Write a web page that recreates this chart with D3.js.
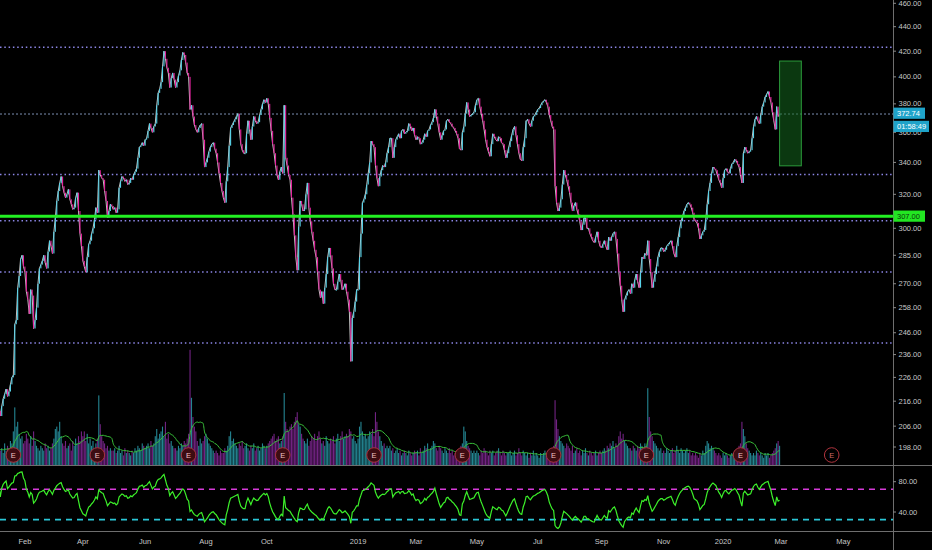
<!DOCTYPE html>
<html>
<head>
<meta charset="utf-8">
<script src="https://cdn.jsdelivr.net/npm/d3@7"></script>
<style>
  html, body { margin: 0; padding: 0; background: #000; overflow: hidden; }
  svg { display: block; }
  text { font-family: "Liberation Sans", Arial, sans-serif; }
</style>
</head>
<body>
<svg id="chart" width="932" height="550"></svg>
<script>
// Trading calendar
const startDate = '2018-01-02';
const endDate = '2020-06-30';
const holidays = [
  '2018-01-15', '2018-02-19', '2018-03-30', '2018-05-28', '2018-07-04', '2018-09-03', '2018-11-22', '2018-12-05', '2018-12-25',
  '2019-01-01', '2019-01-21', '2019-02-18', '2019-04-19', '2019-05-27', '2019-07-04', '2019-09-02', '2019-11-28', '2019-12-25',
  '2020-01-01', '2020-01-20', '2020-02-17', '2020-04-10', '2020-05-25'
];

// Daily closes (one row per month)
const closes = [
  208, 206, 209, 212, 210, 214, 217, 219, 221, 218, 220, 223, 226, 227, 250, 252, 268, 274, 283, 285, 279, // 2018-01
  276, 266, 262, 255, 267, 264, 248, 252, 258, 270, 278, 280, 282, 285, 281, 278, 287, 293, 290, // 02
  286, 298, 306, 316, 322, 327, 331, 325, 321, 318, 320, 323, 317, 314, 311, 312, 318, 321, 310, 297, 290, // 03
  282, 279, 276, 284, 291, 293, 297, 300, 305, 312, 309, 335, 332, 330, 329, 322, 316, 306, 310, 314, 313, // 04
  311, 312, 309, 311, 324, 328, 331, 330, 328, 329, 326, 327, 330, 329, 332, 334, 336, 343, 350, 351, 353, 351, // 05
  355, 356, 361, 366, 363, 360, 364, 366, 379, 388, 391, 396, 408, 420, 414, 407, 403, 392, 399, 403, 398, // 06
  392, 396, 401, 405, 413, 419, 417, 411, 403, 400, 376, 379, 371, 365, 362, 360, 363, 365, 366, 355, 337, // 07
  340, 343, 347, 350, 352, 353, 349, 346, 340, 333, 327, 322, 318, 315, 328, 337, 351, 363, 365, 367, 369, 371, 373, // 08
  362, 352, 348, 346, 346, 359, 368, 362, 355, 364, 371, 368, 366, 367, 372, 376, 380, 383, 381, // 09
  384, 380, 370, 361, 352, 346, 338, 332, 329, 334, 337, 333, 379, 343, 338, 332, 329, 318, 308, 296, 284, 277, 301, // 10
  316, 314, 310, 311, 320, 327, 312, 304, 298, 293, 288, 284, 276, 267, 263, 266, 260, 268, 275, 284, 289, // 11
  285, 278, 270, 267, 267, 271, 275, 272, 267, 268, 270, 266, 262, 256, 233, 253, 256, 261, 267, // 12
  267, 284, 297, 315, 317, 320, 326, 333, 340, 354, 352, 350, 338, 330, 325, 331, 335, 338, 337, 340, 346, // 2019-01
  350, 356, 356, 343, 350, 355, 357, 359, 356, 361, 362, 359, 360, 361, 366, 364, 361, 363, 358, // 02
  355, 357, 356, 352, 353, 355, 359, 357, 361, 362, 365, 367, 370, 376, 371, 366, 360, 355, 358, 361, 362, // 03
  368, 369, 367, 366, 364, 363, 361, 359, 356, 349, 348, 360, 364, 373, 381, 376, 371, 372, 373, 374, 379, // 04
  383, 384, 378, 373, 368, 362, 355, 350, 347, 344, 352, 359, 357, 355, 354, 357, 356, 353, 352, 348, 343, 346, // 05
  350, 354, 358, 362, 364, 358, 352, 346, 342, 341, 350, 356, 368, 369, 366, 364, 368, 371, 372, 374, // 06
  376, 377, 379, 381, 382, 383, 381, 378, 372, 368, 364, 362, 325, 315, 310, 312, 317, 326, 335, 332, 329, 325, // 07
  321, 315, 310, 313, 315, 311, 308, 304, 299, 302, 306, 306, 300, 300, 297, 295, 293, 292, 295, 298, 293, 290, // 08
  289, 291, 293, 290, 288, 295, 293, 295, 297, 298, 294, 286, 276, 269, 262, 256, 262, 264, 266, 267, // 09
  265, 270, 268, 272, 275, 271, 268, 276, 284, 283, 286, 285, 293, 283, 276, 268, 271, 275, 279, 284, 287, 289, 289, // 10
  287, 288, 290, 291, 292, 293, 290, 286, 284, 290, 295, 300, 304, 307, 310, 312, 314, 315, 314, 312, // 11
  309, 305, 304, 303, 300, 294, 296, 298, 299, 305, 314, 322, 327, 333, 337, 336, 335, 332, 329, 327, 324, // 12
  330, 335, 336, 334, 333, 336, 339, 340, 342, 341, 339, 337, 332, 327, 346, 350, 348, 346, 347, 348, 356, // 2020-01
  364, 369, 371, 368, 366, 372, 378, 381, 385, 387, 389, 385, 381, 374, 368, 362, 378, 371, 372.74 // 02
];

// Daily volume in millions of shares
const volumes = [
  7, 6, 5, 8, 6, 7, 5, 9, 6, 8, 7, 10, 9, 14, 24, 16, 18, 13, 11, 12, 9,
  10, 13, 11, 9, 12, 8, 14, 10, 8, 7, 6, 8, 7, 6, 9, 7, 8, 6, 7,
  9, 11, 15, 16, 14, 18, 12, 9, 8, 10, 7, 8, 9, 6, 10, 8, 11, 9, 12, 10, 14,
  12, 14, 10, 13, 9, 11, 8, 10, 7, 9, 11, 29, 17, 12, 10, 9, 7, 8, 6, 7, 6,
  6, 7, 5, 6, 8, 5, 6, 4, 7, 5, 6, 5, 4, 6, 5, 7, 6, 8, 7, 6, 9, 8,
  7, 8, 9, 7, 10, 8, 9, 12, 15, 11, 13, 14, 16, 12, 18, 11, 13, 9, 10, 8, 7,
  7, 6, 8, 7, 9, 8, 10, 9, 11, 13, 48, 28, 20, 16, 14, 10, 8, 11, 9, 10, 12,
  13, 11, 9, 8, 7, 6, 5, 6, 5, 4, 6, 5, 5, 7, 6, 8, 12, 14, 10, 11, 9, 8, 7,
  9, 8, 10, 7, 8, 9, 7, 6, 8, 7, 9, 6, 7, 8, 6, 7, 9, 8, 7,
  8, 9, 10, 11, 12, 13, 10, 11, 12, 9, 10, 12, 30, 18, 15, 14, 16, 17, 15, 18, 20, 22, 17,
  16, 13, 11, 10, 9, 11, 8, 10, 12, 11, 13, 10, 12, 14, 11, 9, 10, 8, 12, 10, 9,
  11, 10, 12, 9, 11, 13, 10, 12, 14, 11, 12, 13, 12, 15, 14, 11, 12, 10, 9,
  11, 16, 18, 14, 12, 13, 11, 12, 14, 13, 15, 12, 22, 18, 14, 12, 10, 8, 9, 7, 8,
  7, 8, 6, 7, 5, 6, 7, 5, 6, 4, 5, 6, 5, 4, 6, 5, 4, 5, 6,
  5, 6, 4, 7, 5, 6, 8, 7, 9, 6, 7, 8, 10, 9, 7, 6, 8, 7, 6, 5, 7,
  6, 5, 7, 5, 6, 4, 5, 6, 5, 7, 8, 9, 16, 14, 10, 8, 7, 6, 5, 6, 5,
  6, 5, 4, 6, 5, 7, 6, 5, 4, 6, 5, 6, 4, 5, 6, 7, 5, 4, 6, 5, 4, 5,
  5, 6, 4, 5, 6, 4, 5, 7, 5, 4, 6, 5, 4, 5, 3, 5, 4, 6, 4, 5,
  4, 3, 5, 4, 5, 6, 4, 5, 6, 5, 7, 8, 27, 19, 15, 12, 10, 9, 8, 7, 9, 8,
  7, 6, 8, 5, 6, 7, 5, 6, 4, 6, 5, 7, 5, 4, 6, 5, 4, 5, 6, 4, 5, 6,
  5, 6, 7, 6, 8, 7, 9, 8, 10, 7, 9, 8, 12, 14, 11, 13, 10, 9, 8, 7,
  7, 6, 8, 7, 6, 8, 7, 9, 8, 7, 9, 8, 32, 20, 14, 12, 10, 9, 8, 7, 6, 7, 5,
  6, 5, 7, 6, 5, 6, 7, 5, 6, 8, 6, 5, 7, 6, 5, 6, 7, 5, 6, 4,
  5, 4, 5, 4, 3, 5, 4, 6, 5, 8, 10, 9, 7, 8, 7, 6, 5, 4, 5, 4, 3,
  5, 4, 5, 4, 3, 4, 5, 4, 5, 6, 7, 8, 9, 18, 15, 12, 9, 7, 6, 5, 4,
  5, 4, 6, 5, 4, 5, 4, 3, 5, 4, 5, 3, 4, 5, 6, 7, 9, 10, 8
];

const earnings = ['2018-01-22', '2018-04-16', '2018-07-16', '2018-10-16', '2019-01-17',
  '2019-04-16', '2019-07-17', '2019-10-16', '2020-01-21', '2020-04-21'];

const levelLines = [423.2, 332.3, 304.3, 276.1, 241.3];
const supportLevel = 307;
const lastPrice = 372.74;
const countdown = '01:58:49';
const targetBox = { from: '2020-02-28', to: '2020-03-20', high: 412.2, low: 337.8 };

const priceTicks = [460, 440, 420, 400, 380, 360, 340, 320, 300, 285, 270, 258, 246, 236, 226, 216, 206, 198];
const rsiTicks = [80, 40];
const rsiBands = [70, 30];
const timeTicks = ['2018-02', '2018-04', '2018-06', '2018-08', '2018-10', '2019-01', '2019-03',
  '2019-05', '2019-07', '2019-09', '2019-11', '2020-01', '2020-03', '2020-05'];
const timeLabels = ['Feb', 'Apr', 'Jun', 'Aug', 'Oct', '2019', 'Mar', 'May', 'Jul', 'Sep', 'Nov', '2020', 'Mar', 'May'];

// ---- layout
const W = 932, H = 550;
const axisX = 893;
const pricePane = { top: 0, bottom: 465 };
const rsiPane = { top: 465, bottom: 531 };

const parse = d3.utcParse('%Y-%m-%d');
const fmtDay = d3.utcFormat('%Y-%m-%d');
const holidaySet = new Set(holidays);
const days = d3.utcDays(parse(startDate), d3.utcDay.offset(parse(endDate), 1))
  .filter((d) => d.getUTCDay() % 6 !== 0 && !holidaySet.has(fmtDay(d)));
const dayIndex = (s) => days.findIndex((d) => fmtDay(d) >= s);

const x = d3.scaleLinear().domain([3.8, 620.3]).range([0, axisX]);
const y = d3.scaleLog().domain([198, 460]).range([447, 3.3]);
const yVol = d3.scaleLinear().domain([0, 50]).range([pricePane.bottom, 345]);
const yRsi = d3.scaleLinear().domain([40, 80]).range([512, 481.7]);

const bars = closes.map((c, i) => ({
  i,
  open: i ? closes[i - 1] : c,
  close: c,
  volume: volumes[i]
}));

// Wilder RSI(14), seeded with whatever history is available
function rsi(values, n) {
  const out = [];
  let gain = 0, loss = 0;
  for (let i = 1; i < values.length; i++) {
    const ch = values[i] - values[i - 1];
    const g = Math.max(ch, 0), l = Math.max(-ch, 0);
    const k = Math.min(i, n);
    gain = (gain * (k - 1) + g) / k;
    loss = (loss * (k - 1) + l) / k;
    out.push({ i, v: loss === 0 ? 100 : 100 - 100 / (1 + gain / loss) });
  }
  return out;
}

function sma(values, n) {
  return values.map((_, i) => {
    const win = values.slice(Math.max(0, i - n + 1), i + 1);
    return { i, v: d3.mean(win) };
  });
}

const svg = d3.select('#chart');
svg.append('rect').attr('width', W).attr('height', H).attr('fill', '#000');

const defs = svg.append('defs');
defs.append('clipPath').attr('id', 'clip-price')
  .append('rect').attr('x', 0).attr('y', pricePane.top).attr('width', axisX).attr('height', pricePane.bottom - pricePane.top);
defs.append('clipPath').attr('id', 'clip-rsi')
  .append('rect').attr('x', 0).attr('y', rsiPane.top).attr('width', axisX).attr('height', rsiPane.bottom - rsiPane.top);

const price = svg.append('g').attr('clip-path', 'url(#clip-price)');

// volume overlay
price.append('g')
  .selectAll('rect')
  .data(bars)
  .join('rect')
  .attr('x', (d) => x(d.i) - 0.55)
  .attr('width', 1.1)
  .attr('y', (d) => yVol(d.volume))
  .attr('height', (d) => yVol(0) - yVol(d.volume))
  .attr('fill', (d) => (d.close >= d.open ? '#2a9cab' : '#86299a'))
  .attr('opacity', 0.85);

price.append('path')
  .datum(sma(volumes, 10))
  .attr('fill', 'none')
  .attr('stroke', '#39c23a')
  .attr('stroke-width', 1)
  .attr('d', d3.line().x((d) => x(d.i)).y((d) => yVol(d.v)).curve(d3.curveMonotoneX));

// horizontal levels
price.append('g')
  .selectAll('line')
  .data(levelLines)
  .join('line')
  .attr('x1', 0).attr('x2', axisX)
  .attr('y1', (d) => y(d)).attr('y2', (d) => y(d))
  .attr('stroke', '#8c86e6')
  .attr('stroke-width', 1.5)
  .attr('stroke-dasharray', '1.5,2.8');

price.append('line')
  .attr('x1', 0).attr('x2', axisX)
  .attr('y1', y(lastPrice)).attr('y2', y(lastPrice))
  .attr('stroke', '#7d8fb3')
  .attr('stroke-width', 1)
  .attr('stroke-dasharray', '2,2');

// close line under the candles
price.append('path')
  .datum(bars)
  .attr('fill', 'none')
  .attr('stroke', '#f2f2f2')
  .attr('stroke-width', 1)
  .attr('opacity', 0.8)
  .attr('d', d3.line().x((d) => x(d.i)).y((d) => y(d.close)));

price.append('g')
  .selectAll('rect')
  .data(bars)
  .join('rect')
  .attr('x', (d) => x(d.i) - 0.55)
  .attr('width', 1.1)
  .attr('y', (d) => y(Math.max(d.open, d.close)))
  .attr('height', (d) => Math.max(1, Math.abs(y(d.open) - y(d.close))))
  .attr('fill', (d) => (d.close >= d.open ? '#58d4ea' : '#e6239f'));

// support line
price.append('line')
  .attr('x1', 0).attr('x2', axisX)
  .attr('y1', y(supportLevel)).attr('y2', y(supportLevel))
  .attr('stroke', '#22f022')
  .attr('stroke-width', 3);

// target box
price.append('rect')
  .attr('x', x(dayIndex(targetBox.from)))
  .attr('width', x(dayIndex(targetBox.to)) - x(dayIndex(targetBox.from)))
  .attr('y', y(targetBox.high))
  .attr('height', y(targetBox.low) - y(targetBox.high))
  .attr('fill', '#14661e')
  .attr('fill-opacity', 0.55)
  .attr('stroke', '#2b9a3b')
  .attr('stroke-width', 1);

// earnings markers
const lastBar = closes.length - 1;
const marks = svg.append('g')
  .selectAll('g')
  .data(earnings.map((s) => dayIndex(s)))
  .join('g')
  .attr('transform', (d) => `translate(${x(d)},455)`);
marks.append('circle')
  .attr('r', 7.3)
  .attr('fill', (d) => (d > lastBar ? '#000' : '#3d0c12'))
  .attr('stroke', (d) => (d > lastBar ? '#b0343e' : '#a8323e'))
  .attr('stroke-width', 1);
marks.append('text')
  .attr('text-anchor', 'middle')
  .attr('dy', '0.35em')
  .attr('font-size', 7.5)
  .attr('fill', (d) => (d > lastBar ? '#d06a6a' : '#f3c4c4'))
  .text('E');

// RSI pane
const rsiG = svg.append('g').attr('clip-path', 'url(#clip-rsi)');
rsiG.selectAll('line.band')
  .data(rsiBands)
  .join('line')
  .attr('class', 'band')
  .attr('x1', 0).attr('x2', axisX)
  .attr('y1', (d) => yRsi(d)).attr('y2', (d) => yRsi(d))
  .attr('stroke', (d, i) => (i === 0 ? '#d63ad9' : '#2ac6d6'))
  .attr('stroke-width', 1.6)
  .attr('stroke-dasharray', '6,5');
rsiG.append('path')
  .datum(rsi(closes, 14))
  .attr('fill', 'none')
  .attr('stroke', '#3cf02a')
  .attr('stroke-width', 1.2)
  .attr('d', d3.line().x((d) => x(d.i)).y((d) => yRsi(d.v)));

// separators and axis line
svg.selectAll('line.sep')
  .data([pricePane.bottom, rsiPane.bottom])
  .join('line')
  .attr('class', 'sep')
  .attr('x1', 0).attr('x2', W)
  .attr('y1', (d) => d + 0.5).attr('y2', (d) => d + 0.5)
  .attr('stroke', '#6e6e6e')
  .attr('stroke-width', 1);
svg.append('line')
  .attr('x1', axisX + 0.5).attr('x2', axisX + 0.5)
  .attr('y1', 0).attr('y2', H)
  .attr('stroke', '#6e6e6e')
  .attr('stroke-width', 1);

const labelColor = '#c8c8c8';
const fontSize = 7.5;

const priceAxis = svg.append('g')
  .selectAll('g')
  .data(priceTicks)
  .join('g')
  .attr('transform', (d) => `translate(${axisX},${y(d)})`);
priceAxis.append('line').attr('x1', 0).attr('x2', 3).attr('stroke', '#8a8a8a');
priceAxis.append('text')
  .attr('x', 5.5).attr('dy', '0.35em')
  .attr('font-size', fontSize).attr('fill', labelColor)
  .text((d) => d3.format('.2f')(d));

const rsiAxis = svg.append('g')
  .selectAll('g')
  .data(rsiTicks)
  .join('g')
  .attr('transform', (d) => `translate(${axisX},${yRsi(d)})`);
rsiAxis.append('line').attr('x1', 0).attr('x2', 3).attr('stroke', '#8a8a8a');
rsiAxis.append('text')
  .attr('x', 5.5).attr('dy', '0.35em')
  .attr('font-size', fontSize).attr('fill', labelColor)
  .text((d) => d3.format('.2f')(d));

// time axis
svg.append('g')
  .selectAll('text')
  .data(timeTicks)
  .join('text')
  .attr('x', (d) => x(days.findIndex((day) => fmtDay(day).slice(0, 7) === d)))
  .attr('y', 541.7)
  .attr('dy', '0.35em')
  .attr('text-anchor', 'middle')
  .attr('font-size', fontSize)
  .attr('fill', labelColor)
  .text((d, i) => timeLabels[i]);

// price tags on the axis
function tag(cy, text, w, fill, color) {
  const g = svg.append('g').attr('transform', `translate(${axisX + 0.5},${cy})`);
  g.append('rect').attr('x', 0).attr('y', -5.6).attr('width', w).attr('height', 11.2).attr('fill', fill);
  g.append('text').attr('x', 3.5).attr('dy', '0.35em')
    .attr('font-size', fontSize).attr('fill', color).text(text);
}
tag(y(lastPrice) - 0.8, d3.format('.2f')(lastPrice), 31.5, '#1fa3c9', '#ffffff');
tag(y(lastPrice) + 12.4, countdown, 35.5, '#1fa3c9', '#ffffff');
tag(y(supportLevel), d3.format('.2f')(supportLevel), 31.5, '#22e622', '#0b3b0b');
</script>
</body>
</html>
